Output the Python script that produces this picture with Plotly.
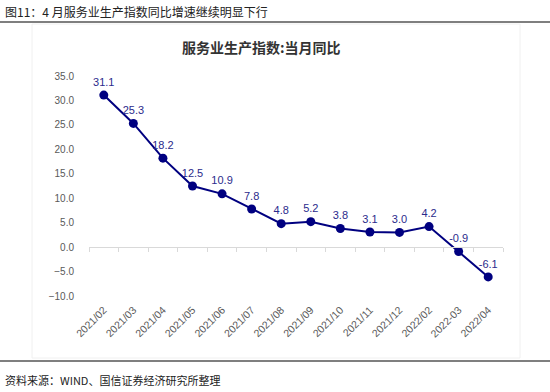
import plotly.graph_objects as go

categories = ["2021/02", "2021/03", "2021/04", "2021/05", "2021/06", "2021/07", "2021/08",
              "2021/09", "2021/10", "2021/11", "2021/12", "2022/02", "2022-03", "2022/04"]
values = [31.1, 25.3, 18.2, 12.5, 10.9, 7.8, 4.8, 5.2, 3.8, 3.1, 3.0, 4.2, -0.9, -6.1]
y_ticks = [35, 30, 25, 20, 15, 10, 5, 0, -5, -10]
chart_title = "服务业生产指数:当月同比"
fig_title = "图11：4 月服务业生产指数同比增速继续明显下行"
source = "资料来源：WIND、国信证券经济研究所整理"

W, H = 550, 392
L, R, T, B = 89, 47, 76, 96
pw, ph = W - L - R, H - T - B
ymin, ymax = -10, 35

def px(x):
    return (x - L) / pw

def py(y):
    return (H - B - y) / ph

CJK = "Noto Sans CJK SC, Liberation Sans, sans-serif"
NAVY = "#000080"

fig = go.Figure()
fig.add_trace(go.Scatter(
    x=list(range(len(categories))), y=values,
    mode="lines+markers+text",
    line=dict(color=NAVY, width=2),
    marker=dict(color=NAVY, size=9),
    text=[f"{v:.1f}" for v in values],
    textposition="top center",
    textfont=dict(family="Liberation Sans, sans-serif", size=11, color="#2b2b8c"),
    cliponaxis=False,
    showlegend=False,
))
# helper trace on second axis to draw tick marks at zero line
fig.add_trace(go.Scatter(x=categories, y=[None]*len(categories), xaxis="x2",
                         showlegend=False, hoverinfo="skip"))

zero_pos = (0 - ymin) / (ymax - ymin)

fig.update_layout(
    width=W, height=H,
    margin=dict(l=L, r=R, t=T, b=B),
    paper_bgcolor="white", plot_bgcolor="white",
    xaxis=dict(
        range=[-0.5, len(categories) - 0.5],
        tickmode="array", tickvals=list(range(len(categories))), ticktext=categories,
        tickangle=-45, showline=False, showgrid=False, zeroline=False, ticks="",
        tickfont=dict(family="Liberation Sans, sans-serif", size=10.5, color="#595959"),
        ticklabelstandoff=5,
    ),
    xaxis2=dict(
        overlaying="x", anchor="free", position=zero_pos,
        type="category", range=[-0.5, len(categories) - 0.5],
        showline=True, linecolor="#d9d9d9", linewidth=1,
        ticks="outside", ticklen=4, tickcolor="#d9d9d9", tickson="boundaries",
        showticklabels=False, showgrid=False, zeroline=False,
    ),
    yaxis=dict(
        range=[ymin, ymax], tickvals=y_ticks, tickformat=".1f",
        showgrid=False, zeroline=False, showline=False, ticks="",
        tickfont=dict(family="Liberation Sans, sans-serif", size=10, color="#595959"),
        ticklabelstandoff=14,
    ),
    shapes=[
        dict(type="rect", xref="paper", yref="paper", x0=px(32), x1=px(520), y0=py(358), y1=py(24),
             line=dict(color="#f0f0f0", width=1), layer="below"),
        dict(type="line", xref="paper", yref="paper", x0=px(0), x1=px(550), y0=py(22), y1=py(22),
             line=dict(color="#555555", width=1.5)),
        dict(type="line", xref="paper", yref="paper", x0=px(0), x1=px(550), y0=py(361), y1=py(361),
             line=dict(color="#555555", width=1.5)),
    ],
    annotations=[
        dict(text=fig_title, xref="paper", yref="paper", x=px(3), y=py(12), xanchor="left", yanchor="middle",
             showarrow=False, font=dict(family=CJK, size=12, color="#222222")),
        dict(text="<b>" + chart_title + "</b>", xref="paper", yref="paper", x=px(261), y=py(47),
             xanchor="center", yanchor="middle",
             showarrow=False, font=dict(family=CJK, size=14, color="#333333")),
        dict(text=source, xref="paper", yref="paper", x=px(3), y=py(380), xanchor="left", yanchor="middle",
             showarrow=False, font=dict(family=CJK, size=11, color="#222222")),
    ],
)

fig.write_html("out.html", config={"displayModeBar": False},
               post_script="document.body.style.margin='0';document.body.style.overflow='hidden';")
